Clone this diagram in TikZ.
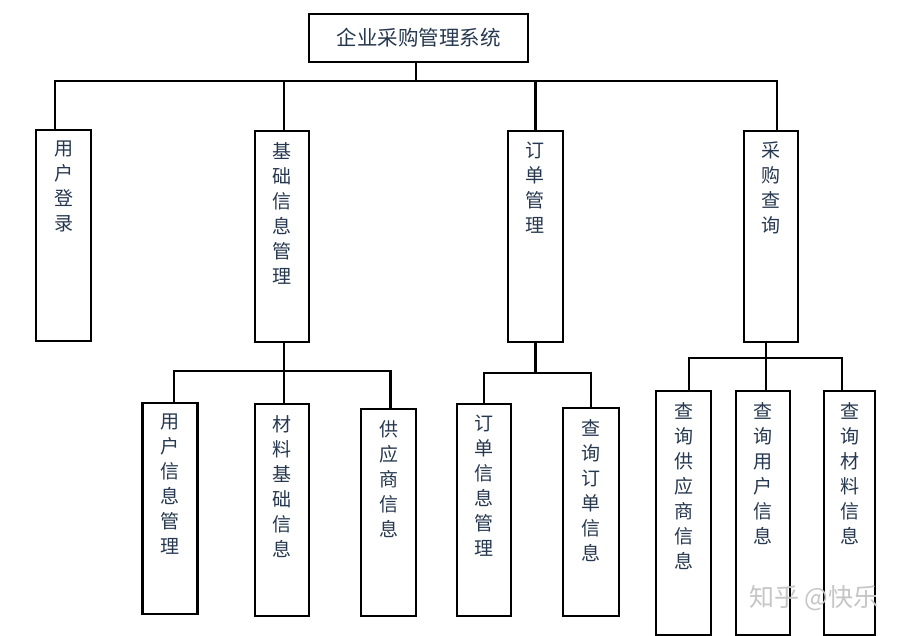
\documentclass[tikz,border=0pt]{standalone}
\usepackage{fontspec}
\newfontfamily\cjk{Noto Sans CJK SC}
\definecolor{txtcol}{HTML}{26384F}
\tikzset{
    conn/.style={line width=2.2pt},
    box/.style={draw, line width=2.2pt, anchor=north, inner sep=0pt, minimum width=55pt},
    vlbl/.style={anchor=north, yshift=-12pt, inner sep=0pt, align=center, text=txtcol,
        font=\cjk\fontsize{19}{25}\selectfont},
}
\begin{document}
\begin{tikzpicture}[x=1pt, y=-1pt]
    \useasboundingbox[fill=white] (0,0) rectangle (908,635);
    % Draw root box
    \node[box, minimum width=219pt, minimum height=48pt, anchor=center, text=txtcol,
        font=\cjk\fontsize{20.5}{23}\selectfont] (root) at (418.5,38) {企业采购管理系统};
    % Draw first level boxes
    \node[box, minimum height=211pt, label={[vlbl]north:{用\\户\\登\\录}}] (login) at (63.5,129) {};
    \node[box, minimum width=54pt, minimum height=211pt, label={[vlbl]north:{基\\础\\信\\息\\管\\理}}] (basic) at (282,130) {};
    \node[box, minimum height=211pt, label={[vlbl]north:{订\\单\\管\\理}}] (order) at (535.4,130) {};
    \node[box, minimum width=54pt, minimum height=211pt, label={[vlbl]north:{采\\购\\查\\询}}] (query) at (771,130) {};
    % Draw second level boxes
    \node[box, minimum height=211pt, label={[vlbl]north:{用\\户\\信\\息\\管\\理}}] (userinfo) at (170,402) {};
    \node[box, minimum width=54pt, minimum height=212pt, label={[vlbl]north:{材\\料\\基\\础\\信\\息}}] (material) at (282,403) {};
    \node[box, minimum height=207pt, label={[vlbl]north:{供\\应\\商\\信\\息}}] (supplier) at (388.5,408) {};
    \node[box, minimum width=54pt, minimum height=212pt, label={[vlbl]north:{订\\单\\信\\息\\管\\理}}] (orderinfo) at (484,403) {};
    \node[box, minimum width=56pt, minimum height=208pt, label={[vlbl]north:{查\\询\\订\\单\\信\\息}}] (queryorder) at (591,407) {};
    \node[box, minimum height=244pt, label={[vlbl]north:{查\\询\\供\\应\\商\\信\\息}}] (qsupplier) at (683.5,390) {};
    \node[box, minimum width=54pt, minimum height=244pt, label={[vlbl]north:{查\\询\\用\\户\\信\\息}}] (quser) at (763,390) {};
    \node[box, minimum width=51pt, minimum height=244pt, label={[vlbl]north:{查\\询\\材\\料\\信\\息}}] (qmaterial) at (849.5,390) {};
    % Connect root to first level
    \coordinate (bus) at (416,81);
    \draw[conn] (root.south -| bus) -- (bus);
    \draw[conn] ([xshift=-8.5pt]login.north) |- (bus) -| ([xshift=5.7pt]query.north);
    \draw[conn] ([xshift=2pt]basic.north) -- ([xshift=2pt]basic.north |- bus);
    \draw[conn] (order.north) -- (order.north |- bus);
    % Connect second level
    \coordinate (bbus) at (284,371);
    \draw[conn] ([xshift=2pt]basic.south) -- (bbus);
    \draw[conn] ([xshift=4pt]userinfo.north) |- (bbus) -| ([xshift=2pt]supplier.north);
    \draw[conn] ([xshift=2pt]material.north) -- (bbus);
    \coordinate (obus) at (535.4,372.7);
    \draw[conn] (order.south) -- (obus);
    \draw[conn] (orderinfo.north) |- (obus) -| (queryorder.north);
    \coordinate (qbus) at (765.7,357.7);
    \draw[conn] ([xshift=-5.3pt]query.south) -- (qbus);
    \draw[conn] ([xshift=5.5pt]qsupplier.north) |- (qbus) -| ([xshift=-7.8pt]qmaterial.north);
    \draw[conn] ([xshift=2.7pt]quser.north) -- (qbus);
    % Watermark
    \node[text=gray!45, font=\cjk\fontsize{25}{27}\selectfont, inner sep=0pt] (mark) at (814,598) {知乎 @快乐};
\end{tikzpicture}
\end{document}
